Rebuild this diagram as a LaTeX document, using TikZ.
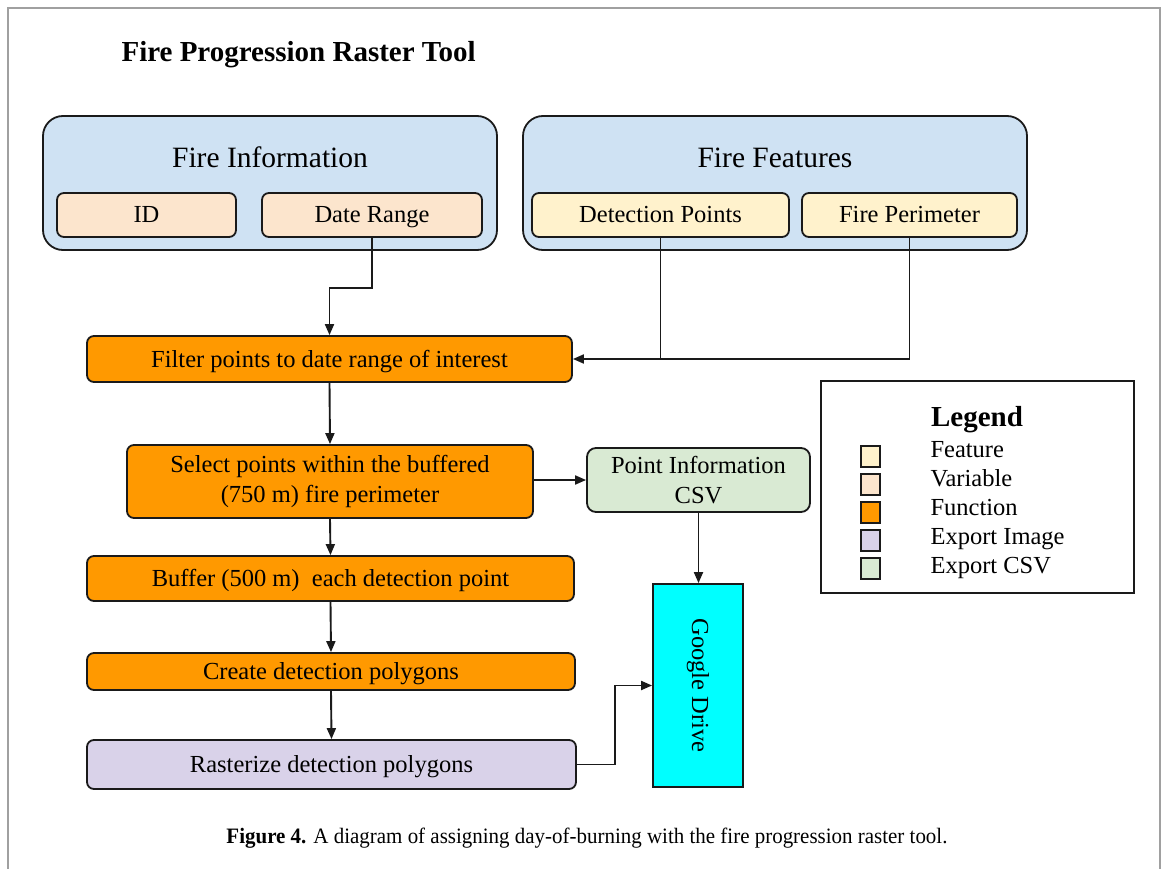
\documentclass[tikz,border=0pt]{standalone}
\usepackage{fontspec}
\setmainfont{Liberation Serif}
\newfontfamily\capfont[FakeStretch=0.953]{Liberation Serif}
\usetikzlibrary{arrows.meta}
\definecolor{grpblue}{HTML}{CFE2F3}
\definecolor{varcol}{HTML}{FCE5CD}
\definecolor{featcol}{HTML}{FFF2CC}
\definecolor{fncol}{HTML}{FF9900}
\definecolor{imgcol}{HTML}{D9D2E9}
\definecolor{csvcol}{HTML}{D9EAD3}
\definecolor{gdcol}{HTML}{00FFFF}
\definecolor{edgecol}{HTML}{1A1A1A}
\definecolor{framecol}{HTML}{A0A0A0}
\begin{document}
\begin{tikzpicture}[x=1pt,y=-1pt,
  basebox/.style={draw=edgecol, line width=1.8pt, rounded corners=7pt, inner sep=0pt,
    align=center, font=\fontsize{24.5}{30}\selectfont},
  oneline/.style={text height=17pt, text depth=1pt},
  grpbox/.style={draw=edgecol, line width=1.8pt, rounded corners=20pt, fill=grpblue, inner sep=0pt},
  grptitle/.style={anchor=base, font=\fontsize{29.5}{34}\selectfont},
  varbox/.style={basebox, oneline, fill=varcol},
  featbox/.style={basebox, oneline, fill=featcol},
  fnbox/.style={basebox, fill=fncol},
  imgbox/.style={basebox, oneline, fill=imgcol},
  csvbox/.style={basebox, fill=csvcol, rounded corners=9pt},
  swatch/.style={draw=edgecol, line width=1.6pt, minimum width=19pt, minimum height=21pt, inner sep=0pt},
  legtext/.style={anchor=base west, font=\fontsize{24.5}{29}\selectfont},
  conn/.style={draw=edgecol, line width=1.9pt},
  arr/.style={conn, -{Triangle[length=11pt,width=9pt]}}
]
\useasboundingbox (0,0) rectangle (1168,869);
\fill[white] (0,0) rectangle (1168,869);
\draw[framecol, line width=1.5pt] (8,869) -- (8,8) -- (1160,8) -- (1160,869);

% title
\node[anchor=base west, font=\bfseries\fontsize{29}{34}\selectfont] (title) at (118,62) {Fire Progression Raster Tool};

% groups
\node[grpbox, minimum width=454pt, minimum height=134pt] (finfo) at (270,183) {};
\node[grptitle] (finfot) at (270,168) {Fire Information};
\node[grpbox, minimum width=504pt, minimum height=134pt] (ffeat) at (775,183) {};
\node[grptitle] (ffeatt) at (775,168) {Fire Features};

\node[varbox, minimum width=179pt, minimum height=44pt] (id) at (146.5,215) {ID};
\node[varbox, minimum width=220pt, minimum height=44pt] (dr) at (372,215) {Date Range};
\node[featbox, minimum width=257pt, minimum height=44pt] (dp) at (660.5,215) {Detection Points};
\node[featbox, minimum width=215pt, minimum height=44pt] (fp) at (909.5,215) {Fire Perimeter};

% flow
\node[fnbox, oneline, minimum width=485pt, minimum height=46pt] (filter) at (329.5,359) {Filter points to date range of interest};
\node[fnbox, minimum width=406pt, minimum height=73pt] (sel) at (330,481.5) {Select points within the buffered\\(750 m) fire perimeter};
\node[csvbox, minimum width=223pt, minimum height=64pt] (pi) at (698.5,480) {Point Information\\CSV};
\node[fnbox, oneline, minimum width=487pt, minimum height=45pt] (buf) at (330.5,578.5) {Buffer (500 m)\ \ each detection point};
\node[fnbox, oneline, minimum width=488pt, minimum height=37pt] (cre) at (331,671.5) {Create detection polygons};
\node[imgbox, minimum width=489pt, minimum height=49pt] (ras) at (331.5,764.5) {Rasterize detection polygons};
\node[draw=edgecol, line width=1.8pt, fill=gdcol, minimum width=90pt, minimum height=203pt, inner sep=0pt] (gd) at (698,685.5) {};
\node[rotate=-90, font=\fontsize{24.5}{30}\selectfont] (gdt) at (gd.center) {Google Drive};

% connectors
\draw[arr] (dr.south) -- ++(0,50) -| (filter.north);
\draw[conn] (dp.south) -- (dp.south |- filter.east);
\draw[arr] (fp.south) |- (filter.east);
\draw[arr] (filter.south) -- (sel.north);
\draw[arr] (sel.east |- pi.west) -- (pi.west);
\draw[arr] (sel.south) -- (buf.north);
\draw[arr] (buf.south) -- (cre.north);
\draw[arr] (cre.south) -- (ras.north);
\draw[arr] (pi.south) -- (pi.south |- gd.north);
\draw[arr] (ras.east) -- ++(38,0) |- (gd.west);

% legend
\node[draw=edgecol, line width=1.8pt, fill=white, minimum width=313pt, minimum height=212pt, inner sep=0pt] (legend) at (977.5,487) {};
\node[anchor=base, font=\bfseries\fontsize{29}{34}\selectfont] (legt) at (977,426) {Legend};
\node[swatch, fill=featcol] (sw1) at (870.5,456.5) {};
\node[swatch, fill=varcol] (sw2) at (870.5,484.5) {};
\node[swatch, fill=fncol] (sw3) at (870.5,512.5) {};
\node[swatch, fill=imgcol] (sw4) at (870.5,540.5) {};
\node[swatch, fill=csvcol] (sw5) at (870.5,568.5) {};
\node[legtext] (lt1) at (927,457) {Feature};
\node[legtext] (lt2) at (927,486) {Variable};
\node[legtext] (lt3) at (927,515) {Function};
\node[legtext] (lt4) at (927,544) {Export Image};
\node[legtext] (lt5) at (927,573) {Export CSV};

% caption
\node[anchor=base, font=\capfont\fontsize{22}{26}\selectfont] (cap) at (587,843) {\textbf{Figure 4.} A diagram of assigning day-of-burning with the fire progression raster tool.};
\end{tikzpicture}
\end{document}
